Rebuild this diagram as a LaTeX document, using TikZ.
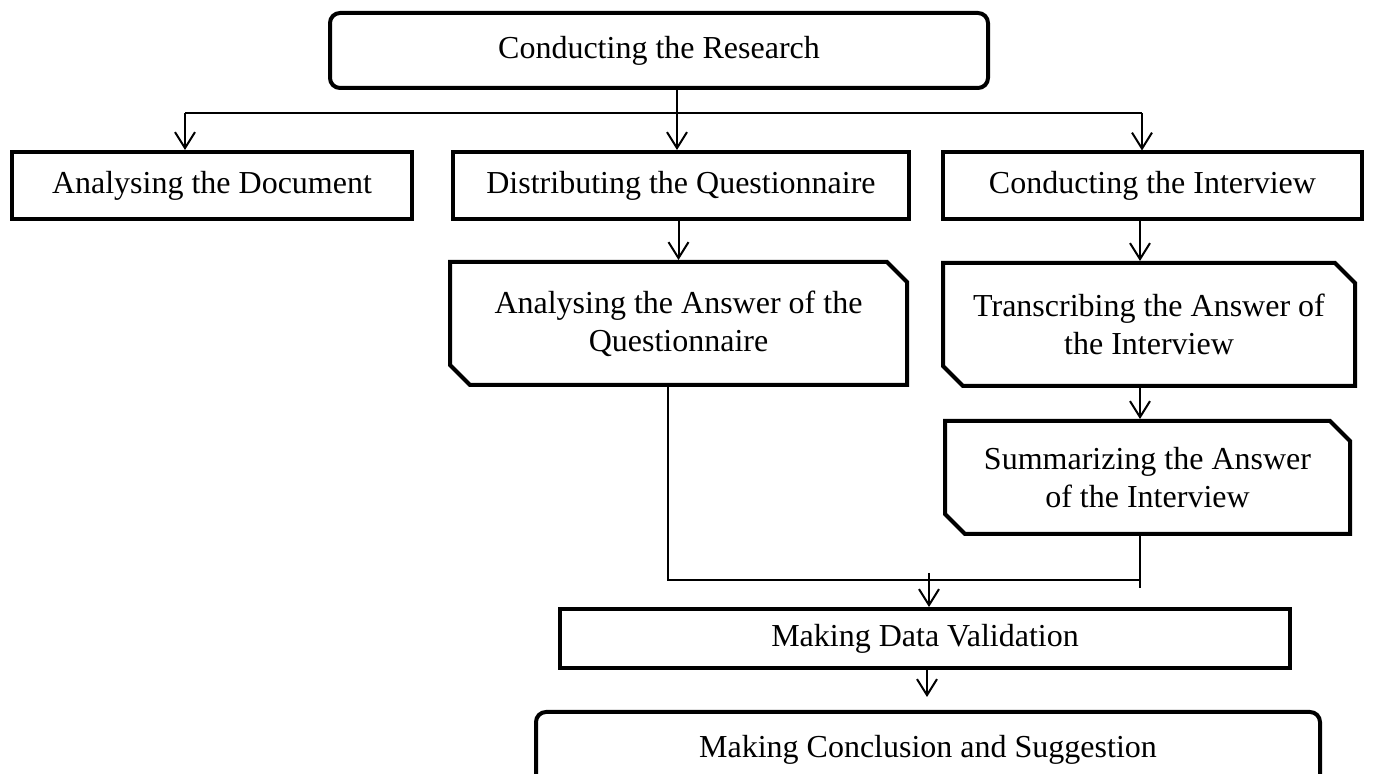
\documentclass[tikz,border=0pt]{standalone}
\usepackage{fontspec}
\setmainfont{Liberation Serif}
\usetikzlibrary{arrows.meta,shapes.misc}

\begin{document}
\begin{tikzpicture}[x=0.5pt, y=-0.5pt,
  box/.style={draw, line width=2pt, inner sep=0pt, align=center,
    font=\fontsize{16pt}{19pt}\selectfont},
  roundbox/.style={box, rounded corners=5pt},
  cutbox/.style={box, chamfered rectangle,
    chamfered rectangle corners={north east, south west},
    chamfered rectangle xsep=5pt, chamfered rectangle ysep=5pt},
  link/.style={line width=1pt},
  arr/.style={link, -{Straight Barb[length=8pt, width=10pt]}}]
\useasboundingbox (0,0) rectangle (1373,774);

% Boxes
\node[roundbox, minimum width=329pt, minimum height=37.5pt] (research) at (659,50.5) {Conducting the Research};
\node[box, minimum width=200pt, minimum height=33.5pt] (document) at (212,185.5) {Analysing the Document};
\node[box, minimum width=228pt, minimum height=33.5pt] (distribute) at (681,185.5) {Distributing the Questionnaire};
\node[box, minimum width=209.5pt, minimum height=33.5pt] (interview) at (1152.5,186) {Conducting the Interview};
\node[cutbox, minimum width=228.5pt, minimum height=61.5pt] (answerq) at (678.5,323.5) {Analysing the Answer of the\\Questionnaire};
\node[cutbox, minimum width=206pt, minimum height=61.5pt] (transcribe) at (1149,324.5) {Transcribing the Answer of\\the Interview};
\node[cutbox, minimum width=202.5pt, minimum height=56.5pt] (summary) at (1147.5,477.5) {Summarizing the Answer\\of the Interview};
\node[box, minimum width=365pt, minimum height=29.5pt] (validation) at (925,638.5) {Making Data Validation};
\node[roundbox, minimum width=392pt, minimum height=38pt] (conclusion) at (928,750) {Making Conclusion and Suggestion};

% Columns of the connectors
\coordinate (split) at (677,113);
\coordinate (splitL) at (185,113);
\coordinate (splitR) at (1142,113);
\coordinate (lcol) at (668,0);
\coordinate (rcol) at (1140,0);
\coordinate (merge) at (929,580);
\coordinate (mergeend) at (1140,588);
\coordinate (vend) at (927,697);

% Branching below the research
\draw[link] (research.south -| split) -- (split);
\draw[link] (splitL) -- (splitR);
\draw[arr] (splitL) -- (splitL |- document.north);
\draw[arr] (split) -- (split |- distribute.north);
\draw[arr] (splitR) -- (splitR |- interview.north);

% Questionnaire and interview steps
\draw[arr] (answerq.north |- distribute.south) -- (answerq.north);
\draw[arr] (interview.south -| rcol) -- (transcribe.north -| rcol);
\draw[arr] (transcribe.south -| rcol) -- (summary.north -| rcol);

% Joining into the validation
\draw[link] (answerq.south -| lcol) -- (lcol |- merge) -- (merge -| rcol);
\draw[link] (summary.south -| rcol) -- (mergeend);
\draw[arr] ([yshift=3.5pt]merge) -- (merge |- validation.north);
\draw[arr] (validation.south -| vend) -- (vend);

\end{tikzpicture}
\end{document}
